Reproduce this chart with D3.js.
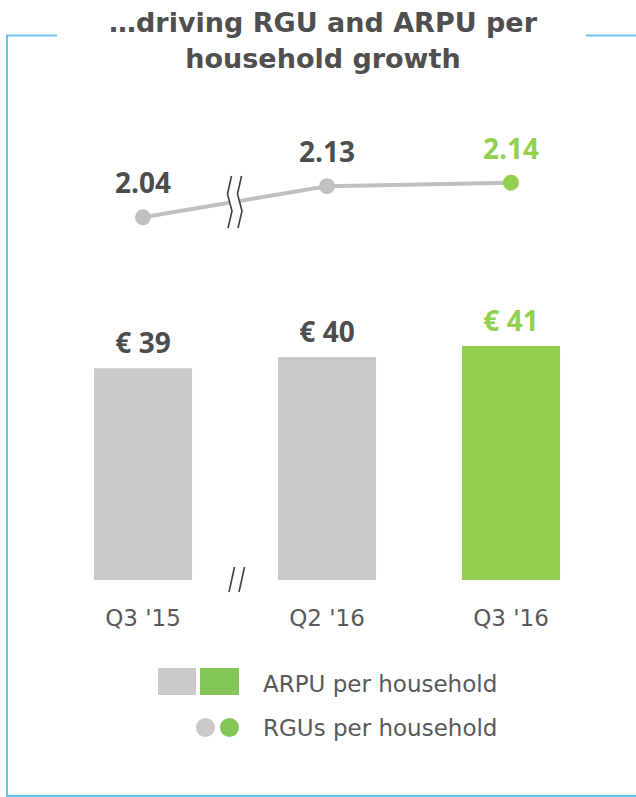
<!DOCTYPE html>
<html>
<head>
<meta charset="utf-8">
<script src="https://cdn.jsdelivr.net/npm/d3@7"></script>
<style>
  html, body { margin: 0; padding: 0; background: #ffffff; }
  svg { display: block; }
  text { font-family: "DejaVu Sans", "Noto Sans", sans-serif; }
  text.num { font-family: "Open Sans", "DejaVu Sans", sans-serif; }
</style>
</head>
<body>
<script>
// Quarter labels and the two per-household series
const quarters = ["Q3 '15", "Q2 '16", "Q3 '16"];
const arpuValues = [39, 40, 41];
const arpuLabels = ["€ 39", "€ 40", "€ 41"];
const rguValues = [2.04, 2.13, 2.14];
const rguLabels = ["2.04", "2.13", "2.14"];
const titleLines = ["…driving RGU and ARPU per", "household growth"];
const legendLabels = ["ARPU per household", "RGUs per household"];

const W = 636, H = 797;
const GREY = "#c9c9c9", GREEN = "#92d050", LEGEND_GREEN = "#84c557";
const DARK = "#4d4d4d", AXIS_TEXT = "#595959", FRAME = "#62c6f3";

const svg = d3.select("body").append("svg")
  .attr("width", W).attr("height", H);

// Frame: open top with gaps around the title
const frame = svg.append("g").attr("fill", "none")
  .attr("stroke", FRAME).attr("stroke-width", 2);
frame.append("path").attr("d", "M57,35.5 H7 V796 H636");
frame.append("path").attr("d", "M586,35.5 H636");

// Title
svg.append("g").selectAll("text").data(titleLines).join("text")
  .attr("x", 323).attr("y", (d, i) => 32 + i * 36)
  .attr("text-anchor", "middle")
  .attr("font-size", 27).attr("font-weight", "bold")
  .attr("fill", "#4f4f4f")
  .text(d => d);

// Scales
const x = d3.scaleBand().domain(quarters)
  .range([51, 603]).paddingInner(0.467).paddingOuter(0.2335);
const yBar = d3.scaleLinear().domain([20, 41]).range([580, 346]);
const yLine = d3.scaleLinear().domain([2.04, 2.14]).range([217.3, 182.7]);
const cx = q => x(q) + x.bandwidth() / 2;
const isLast = i => i === quarters.length - 1;

// ARPU bars
svg.append("g").selectAll("rect").data(quarters).join("rect")
  .attr("x", d => x(d)).attr("width", x.bandwidth())
  .attr("y", (d, i) => yBar(arpuValues[i]))
  .attr("height", (d, i) => yBar(20) - yBar(arpuValues[i]))
  .attr("fill", (d, i) => isLast(i) ? GREEN : GREY);

svg.append("g").selectAll("text").data(quarters).join("text")
  .attr("class", "num")
  .attr("x", d => cx(d))
  .attr("y", (d, i) => yBar(arpuValues[i]) - 15)
  .attr("text-anchor", "middle")
  .attr("font-size", 28).attr("font-weight", "bold")
  .attr("fill", (d, i) => isLast(i) ? GREEN : DARK)
  .text((d, i) => arpuLabels[i]);

// Category axis labels
svg.append("g").selectAll("text").data(quarters).join("text")
  .attr("x", d => cx(d)).attr("y", 626)
  .attr("text-anchor", "middle")
  .attr("font-size", 23)
  .attr("fill", AXIS_TEXT)
  .text(d => d);

// Axis break between the first two bars
const brk = svg.append("g").attr("stroke", "#404040").attr("stroke-width", 1.6)
  .attr("fill", "none");
[0, 10].forEach(dx => {
  brk.append("line")
    .attr("x1", 234.5 + dx).attr("y1", 567)
    .attr("x2", 229 + dx).attr("y2", 592);
});

// RGU line
const pts = quarters.map((q, i) => [cx(q), yLine(rguValues[i])]);
svg.append("path")
  .attr("d", d3.line()(pts))
  .attr("fill", "none").attr("stroke", "#c0c0c0").attr("stroke-width", 4);

// Break marker across the line
const zig = dx => [[231.5 + dx, 176], [227.5 + dx, 194], [232 + dx, 211], [228 + dx, 228]];
const gap = zig(0).concat(zig(10).reverse());
svg.append("path").attr("d", d3.line()(gap) + "Z")
  .attr("fill", "#ffffff").attr("stroke", "none");
[0, 10].forEach(dx => {
  svg.append("path").attr("d", d3.line()(zig(dx)))
    .attr("fill", "none").attr("stroke", "#404040").attr("stroke-width", 1.6);
});

svg.append("g").selectAll("circle").data(pts).join("circle")
  .attr("cx", d => d[0]).attr("cy", d => d[1]).attr("r", 8)
  .attr("fill", (d, i) => isLast(i) ? GREEN : "#c0c0c0");

svg.append("g").selectAll("text").data(pts).join("text")
  .attr("class", "num")
  .attr("x", d => d[0]).attr("y", d => d[1] - 24)
  .attr("text-anchor", "middle")
  .attr("font-size", 28).attr("font-weight", "bold")
  .attr("fill", (d, i) => isLast(i) ? GREEN : DARK)
  .text((d, i) => rguLabels[i]);

// Legend
const lg = svg.append("g");
lg.append("rect").attr("x", 158).attr("y", 668).attr("width", 38).attr("height", 27).attr("fill", GREY);
lg.append("rect").attr("x", 200).attr("y", 668).attr("width", 39).attr("height", 27).attr("fill", LEGEND_GREEN);
lg.append("circle").attr("cx", 205.5).attr("cy", 727.5).attr("r", 9.5).attr("fill", GREY);
lg.append("circle").attr("cx", 229.5).attr("cy", 727.5).attr("r", 9.5).attr("fill", LEGEND_GREEN);
lg.selectAll("text").data(legendLabels).join("text")
  .attr("x", 263).attr("y", (d, i) => 692 + i * 44)
  .attr("font-size", 23)
  .attr("fill", AXIS_TEXT)
  .text(d => d);
</script>
</body>
</html>
